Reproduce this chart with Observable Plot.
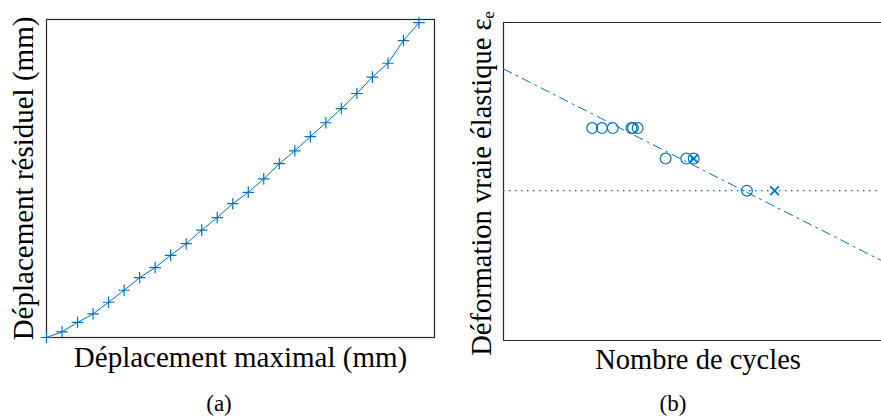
<!DOCTYPE html>
<html><head><meta charset="utf-8">
<script src="https://cdn.jsdelivr.net/npm/d3@7"></script>
<script src="https://cdn.jsdelivr.net/npm/@observablehq/plot@0.6"></script>
<style>
html,body{margin:0;padding:0;background:#fff;overflow:hidden;}
#wrap{position:relative;width:881px;height:418px;}
#a,#b{position:absolute;top:0;}
#a{left:0}
#b{left:440px}
</style></head><body>
<div id="wrap"><div id="a"></div><div id="b"></div></div>
<script>
// Panel (a)
const dispMax = [0,1,2,3,4,5,6,7,8,9,10,11,12,13,14,15,16,17,18,19,20,21,22,23,24];
const dispRes = [0,0.18,0.48,0.75,1.12,1.50,1.90,2.22,2.61,2.98,3.41,3.81,4.25,4.61,5.04,5.52,5.93,6.38,6.82,7.27,7.75,8.27,8.71,9.43,10.0];
const labelA_x = "Déplacement maximal (mm)";
const labelA_y = "Déplacement résiduel (mm)";
const captionA = "(a)";

// Panel (b)
const cyclesCircle = [22.8,25.3,28.1,32.9,33.3,34.5,41.7,47.0,48.9,62.6];
const strainCircle = [66.8,66.8,66.8,66.8,66.8,66.8,57.2,57.2,57.2,47.1];
const cyclesCross = [48.9,69.7];
const strainCross = [57.2,47.1];
const fitCycles = [0,100];
const fitStrain = [85.4,23.4];
const limitStrain = [47.1];
const labelB_x = "Nombre de cycles";
const labelB_y = "Déformation vraie élastique εₑ";
const captionB = "(b)";

const blue = "#0072BD";
const axisColor = "#262626";
const font = "Liberation Serif";

const dataA = dispMax.map((x,i)=>({x, y: dispRes[i]}));
const circles = cyclesCircle.map((x,i)=>({x, y: strainCircle[i]}));
const crosses = cyclesCross.map((x,i)=>({x, y: strainCross[i]}));
const fit = fitCycles.map((x,i)=>({x, y: fitStrain[i]}));

const plotA = Plot.plot({
  width: 440, height: 418,
  marginLeft: 46, marginRight: 6, marginTop: 19, marginBottom: 81,
  style: {fontFamily: font, background: "transparent"},
  x: {domain: [0,25], axis: null},
  y: {domain: [0,10.1], axis: null},
  marks: [
    Plot.frame({stroke: axisColor, strokeWidth: 1.2}),
    Plot.line(dataA, {x: "x", y: "y", stroke: blue, strokeWidth: 1}),
    Plot.dot(dataA, {x: "x", y: "y", symbol: "plus", r: 3.8, stroke: blue, strokeWidth: 1.2}),
    Plot.text([labelA_x], {text: d=>d, frameAnchor: "bottom", textAnchor: "middle", lineAnchor: "bottom", dy: 29, fontSize: 29, fill: "#000"}),
    Plot.text([labelA_y], {text: d=>d, frameAnchor: "left", textAnchor: "middle", lineAnchor: "bottom", rotate: -90, dx: -14, fontSize: 29, fill: "#000"}),
    Plot.text([captionA], {text: d=>d, frameAnchor: "bottom", textAnchor: "middle", lineAnchor: "bottom", dx: -21.5, dy: 73, fontSize: 23, fill: "#000"})
  ]
});
document.getElementById("a").appendChild(plotA);

const plotB = Plot.plot({
  width: 441, height: 418,
  marginLeft: 63, marginRight: 0, marginTop: 22, marginBottom: 78,
  style: {fontFamily: font, background: "transparent"},
  x: {domain: [0,97.2], axis: null},
  y: {domain: [0,100], axis: null},
  marks: [
    Plot.ruleX([0], {stroke: axisColor, strokeWidth: 1.2}),
    Plot.ruleY([0,100], {stroke: axisColor, strokeWidth: 1.2}),
    Plot.ruleY(limitStrain, {stroke: blue, strokeWidth: 1.2, strokeDasharray: "1.5,4.5"}),
    Plot.line(fit, {x: "x", y: "y", stroke: blue, strokeWidth: 1, strokeDasharray: "9,5,2,5", clip: true}),
    Plot.dot(circles, {x: "x", y: "y", symbol: "circle", r: 5.4, stroke: blue, strokeWidth: 1.2, fill: "none"}),
    Plot.dot(crosses, {x: "x", y: "y", symbol: "times", r: 4, stroke: blue, strokeWidth: 1.8}),
    Plot.text([labelB_x], {text: d=>d, frameAnchor: "bottom", textAnchor: "middle", lineAnchor: "bottom", dx: 5.5, dy: 28, fontSize: 28.5, fill: "#000"}),
    Plot.text([labelB_y], {text: d=>d, frameAnchor: "left", textAnchor: "middle", lineAnchor: "bottom", rotate: -90, dx: -13, dy: 2, fontSize: 28.5, fill: "#000"}),
    Plot.text([captionB], {text: d=>d, frameAnchor: "bottom", textAnchor: "middle", lineAnchor: "bottom", dx: -19.5, dy: 70, fontSize: 23, fill: "#000"})
  ]
});
document.getElementById("b").appendChild(plotB);
</script>
</body></html>
